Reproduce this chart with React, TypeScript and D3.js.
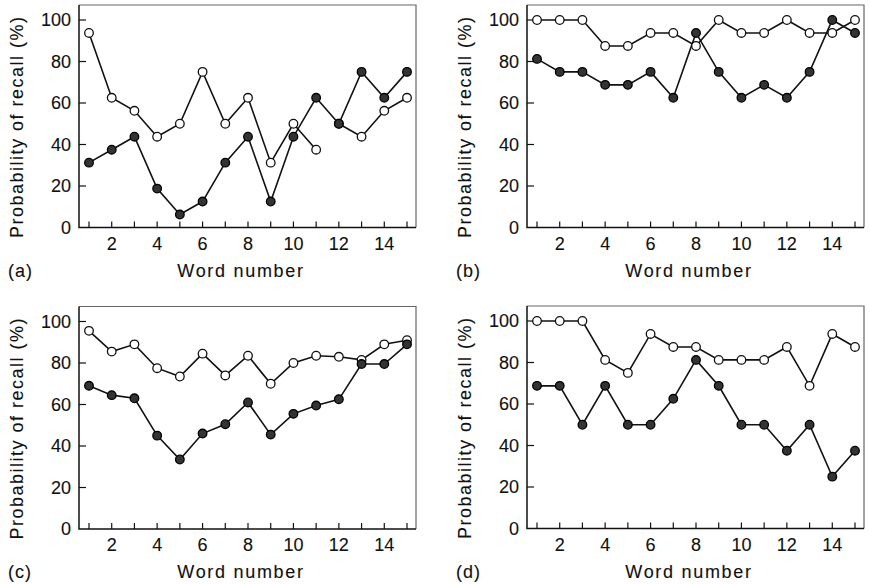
import React from "react";
import * as d3 from "d3";

const words = d3.range(1, 16);
const xTickLabels = [2, 4, 6, 8, 10, 12, 14];
const yTicks = [0, 20, 40, 60, 80, 100];
const panelLabels = ["(a)", "(b)", "(c)", "(d)"];

const openA = [93.75, 62.5, 56.25, 43.75, 50, 75, 50, 62.5, 31.25, 50, 37.5, 50, 43.75, 56.25, 62.5];
const filledA = [31.25, 37.5, 43.75, 18.75, 6.25, 12.5, 31.25, 43.75, 12.5, 43.75, 62.5, 50, 75, 62.5, 75];
const openAGaps = [11]; // no line from word 11 to word 12

const openB = [100, 100, 100, 87.5, 87.5, 93.75, 93.75, 87.5, 100, 93.75, 93.75, 100, 93.75, 93.75, 100];
const filledB = [81.25, 75, 75, 68.75, 68.75, 75, 62.5, 93.75, 75, 62.5, 68.75, 62.5, 75, 100, 93.75];

const openC = [95.5, 85.5, 89, 77.5, 73.5, 84.5, 74, 83.5, 70, 80, 83.5, 83, 81.5, 89, 91];
const filledC = [69, 64.5, 63, 45, 33.5, 46, 50.5, 61, 45.5, 55.5, 59.5, 62.5, 79.5, 79.5, 89];

const openD = [100, 100, 100, 81.25, 75, 93.75, 87.5, 87.5, 81.25, 81.25, 81.25, 87.5, 68.75, 93.75, 87.5];
const filledD = [68.75, 68.75, 50, 68.75, 50, 50, 62.5, 81.25, 68.75, 50, 50, 37.5, 50, 25, 37.5];

type Panel = {
  label: string;
  open: number[];
  filled: number[];
  openGaps: number[];
  ox: number;
  oy: number;
};

const panels: Panel[] = [
  { label: panelLabels[0], open: openA, filled: filledA, openGaps: openAGaps, ox: 79, oy: 5 },
  { label: panelLabels[1], open: openB, filled: filledB, openGaps: [], ox: 527, oy: 5 },
  { label: panelLabels[2], open: openC, filled: filledC, openGaps: [], ox: 79, oy: 306.5 },
  { label: panelLabels[3], open: openD, filled: filledD, openGaps: [], ox: 527, oy: 306 },
];

const W = 337;
const H = 222.5;
const FONT = "'Liberation Sans', Arial, Helvetica, sans-serif";
const TEXT_STROKE = 0.12;

function runs(vals: number[], gaps: number[]) {
  const out: [number, number][][] = [];
  let cur: [number, number][] = [];
  vals.forEach((v, i) => {
    cur.push([words[i], v]);
    if (gaps.includes(words[i])) {
      out.push(cur);
      cur = [];
    }
  });
  if (cur.length) out.push(cur);
  return out;
}

function PanelView({ p }: { p: Panel }) {
  const x = d3.scaleLinear().domain([1, 15]).range([10, 328]);
  const y = d3.scaleLinear().domain([0, 100]).range([H, 15]);
  const line = d3
    .line<[number, number]>()
    .x((d) => x(d[0]))
    .y((d) => y(d[1]));
  const openRuns = runs(p.open, p.openGaps);
  const filledRuns = runs(p.filled, []);
  const textProps = {
    fontSize: 18,
    fontFamily: FONT,
    fill: "#111",
    stroke: "#111",
    strokeWidth: TEXT_STROKE,
  };
  return (
    <g transform={`translate(${p.ox},${p.oy})`}>
      <path d={`M0,0H${W}V${H}`} fill="none" stroke="#666" strokeWidth={1.2} />
      <path d={`M0,0V${H}H${W}`} fill="none" stroke="#111" strokeWidth={1.5} />
      {yTicks.map((t) => (
        <g key={"y" + t}>
          {t > 0 && <line x1={0} x2={7} y1={y(t)} y2={y(t)} stroke="#111" strokeWidth={1.2} />}
          <text x={-8} y={y(t)} dy="0.36em" textAnchor="end" {...textProps}>
            {t}
          </text>
        </g>
      ))}
      {words.map((w) => (
        <line key={"x" + w} x1={x(w)} x2={x(w)} y1={H} y2={H - 6} stroke="#111" strokeWidth={1.2} />
      ))}
      {xTickLabels.map((w) => (
        <text key={"xl" + w} x={x(w)} y={H + 22} textAnchor="middle" {...textProps}>
          {w}
        </text>
      ))}
      <text x={162} y={H + 49} textAnchor="middle" letterSpacing={1.7} {...textProps}>
        Word number
      </text>
      <text x={-71} y={H + 49} letterSpacing={1} {...textProps}>
        {p.label}
      </text>
      <text
        transform={`translate(-56,${(H + 15) / 2 + 3}) rotate(-90)`}
        textAnchor="middle"
        letterSpacing={1.5}
        {...textProps}
      >
        Probability of recall (%)
      </text>
      {openRuns.map((r, i) => (
        <path key={"ol" + i} d={line(r) || ""} fill="none" stroke="#111" strokeWidth={1.6} />
      ))}
      {filledRuns.map((r, i) => (
        <path key={"fl" + i} d={line(r) || ""} fill="none" stroke="#111" strokeWidth={1.6} />
      ))}
      {p.open.map((v, i) => (
        <circle key={"oc" + i} cx={x(words[i])} cy={y(v)} r={4.3} fill="#fff" stroke="#111" strokeWidth={1.3} />
      ))}
      {p.filled.map((v, i) => (
        <circle key={"fc" + i} cx={x(words[i])} cy={y(v)} r={4.3} fill="#333" stroke="#000" strokeWidth={1.3} />
      ))}
    </g>
  );
}

export default function App() {
  return (
    <svg width={870} height={584} style={{ position: "absolute", left: 0, top: 0, background: "#fff" }}>
      <rect width={870} height={584} fill="#fff" />
      {panels.map((p) => (
        <PanelView key={p.label} p={p} />
      ))}
    </svg>
  );
}
